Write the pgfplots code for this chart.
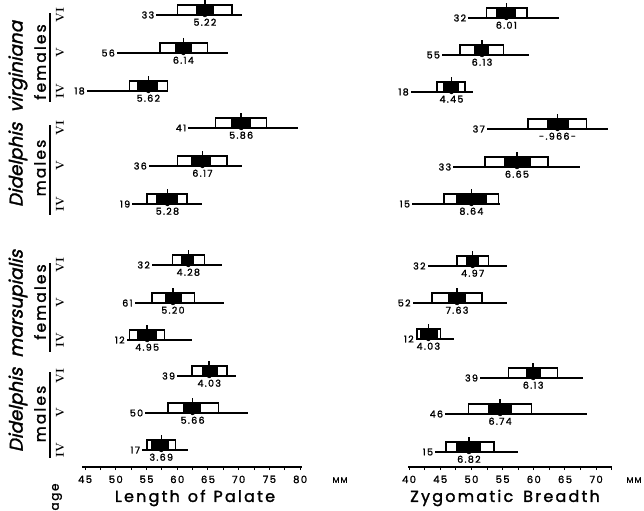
\documentclass[border=0pt]{standalone}
\usepackage{fontspec}
\newfontfamily\lett[LetterSpace=14, FakeBold=1.6]{Poppins}
\newfontfamily\lettit[FakeSlant=0.22, FakeBold=1.6]{Poppins}
\usepackage{pgfplots}
\usepackage{pgfplotstable}
\pgfplotsset{compat=1.18}

% y = baseline position (px from top); r = range; b = open box; f = filled box
\pgfplotstableread{
y   rmin rmax bmin bmax fmin fmax mean n  cv
15  56.6 70.6 60.0 68.9 63.2 65.8 64.5 33 5.22
53  50.2 68.3 57.2 64.9 59.8 62.3 61.0 56 6.14
91  45.3 58.2 52.2 58.4 53.5 56.7 55.3 18 5.62
128 61.8 79.7 66.2 74.5 68.9 71.9 70.4 41 5.86
166 55.4 70.6 60.0 68.1 62.4 65.4 64.1 36 6.17
204 52.7 64.1 55.1 61.6 56.7 60.0 58.4 19 5.28
265 55.9 67.3 59.2 64.4 60.8 62.6 61.8 32 4.28
303 53.1 67.6 55.9 62.8 58.2 60.6 59.3 61 5.20
340 51.8 62.4 52.2 57.9 53.5 56.6 55.1 12 4.95
376 60.0 69.6 62.4 68.1 64.1 66.5 65.2 39 4.03
413 54.8 71.5 58.5 66.7 61.0 63.7 62.5 50 5.66
450 54.3 61.8 55.1 59.7 55.9 58.5 57.4 17 3.69
}\dataL

\pgfplotstableread{
y   rmin rmax bmin bmax fmin fmax mean n  cv
18  49.5 64.1 52.4 58.9 54.1 57.0 55.6 32 6.01
55  45.3 59.3 48.2 55.1 50.6 52.7 51.7 55 6.13
92  40.3 50.3 44.5 49.0 45.5 47.9 46.8 18 4.45
129 52.5 71.9 59.1 68.4 62.3 65.5 63.8 37 -.966-
167 47.1 67.4 52.2 62.3 55.4 59.4 57.3 33 6.65
204 40.5 54.6 45.6 54.3 47.7 52.4 50.0 15 8.64
266 43.0 55.7 47.7 52.7 49.3 51.1 50.2 32 4.97
303 40.6 55.7 43.7 51.7 46.3 49.0 47.7 52 7.63
339 41.1 47.2 41.3 45.0 41.8 44.5 43.1 12 4.03
378 51.4 67.9 55.9 63.8 58.8 61.0 59.9 39 6.13
414 45.8 68.6 49.5 59.6 52.7 56.4 54.6 46 6.74
452 44.2 57.5 45.9 53.6 47.7 51.4 49.6 15 6.82
}\dataR

\pgfplotsset{
  common/.style={scale only axis, height=467bp, ymin=-467, ymax=0,
    enlargelimits=false, clip=false},
  panel/.style={common, axis x line=bottom, axis y line=none,
    axis line style={-, line width=1.5bp},
    xtick distance=5, minor x tick num=1, tick align=outside,
    major tick length=3bp, minor tick length=3bp,
    every tick/.style={line width=1bp, black},
    /pgf/number format/assume math mode=true,
    xticklabel style={font=\lett\fontsize{10}{10}\selectfont, inner sep=0pt, yshift=-5.5bp}},
  barpanel/.style={common, hide axis, xbar stacked, bar width=10bp},
}

\newcommand{\bars}[1]{%
  \addplot[draw=none, fill=none] table[x=bmin, y expr=-\thisrow{y}+5] {#1};
  \addplot[fill=white, draw=black, line width=1.4bp] table[x expr=\thisrow{fmin}-\thisrow{bmin}, y expr=-\thisrow{y}+5] {#1};
  \addplot[fill=black, draw=black, line width=1.4bp] table[x expr=\thisrow{fmax}-\thisrow{fmin}, y expr=-\thisrow{y}+5] {#1};
  \addplot[fill=white, draw=black, line width=1.4bp] table[x expr=\thisrow{bmax}-\thisrow{fmax}, y expr=-\thisrow{y}+5] {#1};
}
\newcommand{\lines}[1]{%
  \addplot[only marks, mark=none, error bars/.cd, x dir=both, x explicit, error mark=none,
    error bar style={line width=1.8bp, black}]
    table[x=mean, y expr=-\thisrow{y}, x error minus expr=\thisrow{mean}-\thisrow{rmin},
      x error plus expr=\thisrow{rmax}-\thisrow{mean}] {#1};
  \addplot[only marks, mark=|, mark size=3bp, mark options={line width=1.5bp, black}]
    table[x=mean, y expr=-\thisrow{y}+12] {#1};
  \addplot[only marks, mark=none, point meta=explicit symbolic, nodes near coords,
    every node near coord/.append style={anchor=east, inner sep=2bp, text=black,
      font=\lett\fontsize{9.5}{9.5}\selectfont}]
    table[x=rmin, y expr=-\thisrow{y}, meta=n] {#1};
  \addplot[only marks, mark=none, point meta=explicit symbolic, nodes near coords,
    every node near coord/.append style={anchor=north, inner sep=0pt, yshift=-3.5bp, text=black,
      font=\lett\fontsize{9.5}{9.5}\selectfont}]
    table[x=mean, y expr=-\thisrow{y}, meta=cv] {#1};
}

\begin{document}
\begin{tikzpicture}
% left panel
\begin{axis}[barpanel, width=220bp, xmin=44.5, xmax=80.3, at={(82bp,0bp)}, anchor=north west]
  \bars{\dataL}
\end{axis}
\begin{axis}[panel, width=220bp, xmin=44.5, xmax=80.3, at={(82bp,0bp)}, anchor=north west]
  \lines{\dataL}
\end{axis}
% right panel
\begin{axis}[barpanel, width=204bp, xmin=39.9, xmax=72.6, at={(408.4bp,0bp)}, anchor=north west]
  \bars{\dataR}
\end{axis}
\begin{axis}[panel, width=204bp, xmin=39.9, xmax=72.6, at={(408.4bp,0bp)}, anchor=north west]
  \lines{\dataR}
\end{axis}

% group labels
\node[rotate=90, font=\lettit\fontsize{18.5}{18.5}\selectfont] at (18bp,-114bp) {Didelphis\hspace{10bp}virginiana};
\node[rotate=90, font=\lettit\fontsize{18.5}{18.5}\selectfont] at (18bp,-351bp) {Didelphis\hspace{10bp}marsupialis};
\node[rotate=90, font=\lett\fontsize{15.5}{15.5}\selectfont] at (40bp,-62bp) {females};
\node[rotate=90, font=\lett\fontsize{15.5}{15.5}\selectfont] at (40bp,-168bp) {males};
\node[rotate=90, font=\lett\fontsize{15.5}{15.5}\selectfont] at (40bp,-302bp) {females};
\node[rotate=90, font=\lett\fontsize{15.5}{15.5}\selectfont] at (40bp,-414bp) {males};
\foreach \a/\b in {13/102,125/215,263/352,372/458}
  \draw[line width=1.4bp] (50bp,-\a bp) -- (50bp,-\b bp);
% age classes
\foreach \yy/\r in {15/VI,53/V,91/IV,128/VI,166/V,204/IV,265/VI,303/V,340/IV,376/VI,413/V,450/IV}
  \node[rotate=90, font=\bfseries\fontsize{11.5}{11.5}\selectfont, inner sep=0pt] at (60bp,-\yy bp) {\r};
\node[rotate=90, font=\lett\fontsize{12}{12}\selectfont] at (57bp,-497bp) {age};
% units and axis titles
\node[font=\lett\fontsize{8}{8}\selectfont] at (340bp,-480bp) {MM};
\node[font=\lett\fontsize{8}{8}\selectfont] at (634bp,-480bp) {MM};
\node[font=\lett\fontsize{16}{16}\selectfont] at (195bp,-498bp) {Length\hspace{8bp}of\hspace{8bp}Palate};
\node[font=\lett\fontsize{16}{16}\selectfont] at (505bp,-498bp) {Zygomatic\hspace{10bp}Breadth};

\pgfresetboundingbox
\path[use as bounding box] (0bp,0bp) rectangle (644bp,-511bp);
\end{tikzpicture}
\end{document}
